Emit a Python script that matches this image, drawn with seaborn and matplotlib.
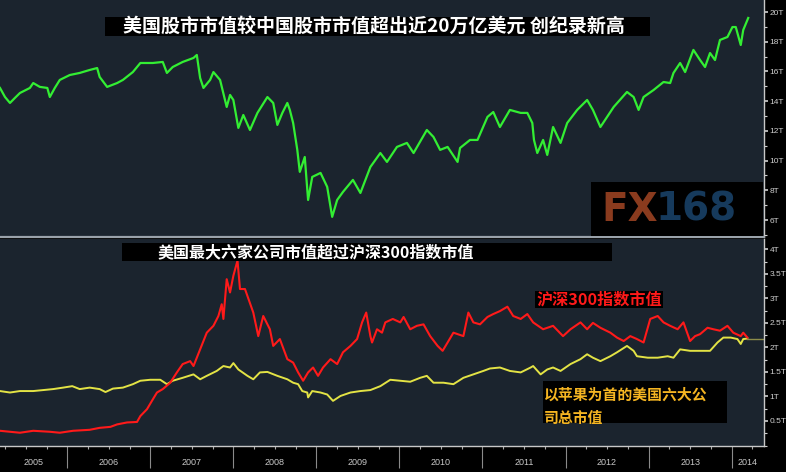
import matplotlib
matplotlib.use("Agg")
import matplotlib.pyplot as plt
from matplotlib.patches import Rectangle
from matplotlib.ticker import FixedLocator, FuncFormatter
import pandas as pd
import seaborn as sns

# ---------------- data ----------------
# US market cap minus China market cap, trillion USD
gap_year = [2005.19, 2005.25, 2005.31, 2005.37, 2005.43, 2005.55, 2005.59, 2005.67, 2005.76, 2005.79,
            2005.85, 2005.91, 2006.03, 2006.15, 2006.27, 2006.36, 2006.39, 2006.48, 2006.60, 2006.67,
            2006.79, 2006.88, 2007.03, 2007.15, 2007.20, 2007.27, 2007.39, 2007.52, 2007.56, 2007.60,
            2007.64, 2007.72, 2007.76, 2007.84, 2007.92, 2007.96, 2008.00, 2008.06, 2008.12, 2008.20,
            2008.29, 2008.41, 2008.48, 2008.53, 2008.59, 2008.65, 2008.68, 2008.72, 2008.77, 2008.80,
            2008.86, 2008.90, 2008.95, 2009.05, 2009.13, 2009.19, 2009.25, 2009.32, 2009.44, 2009.53,
            2009.65, 2009.77, 2009.85, 2009.97, 2010.09, 2010.17, 2010.33, 2010.41, 2010.49, 2010.58,
            2010.70, 2010.73, 2010.85, 2010.94, 2011.06, 2011.13, 2011.21, 2011.33, 2011.46, 2011.54,
            2011.60, 2011.62, 2011.66, 2011.73, 2011.78, 2011.85, 2011.94, 2012.02, 2012.14, 2012.26,
            2012.33, 2012.42, 2012.58, 2012.74, 2012.82, 2012.88, 2012.94, 2013.06, 2013.18, 2013.26,
            2013.30, 2013.38, 2013.44, 2013.54, 2013.62, 2013.68, 2013.74, 2013.80, 2013.86, 2013.95,
            2014.01, 2014.05, 2014.11, 2014.14, 2014.20]
gap_trn = [14.89, 14.28, 13.88, 14.22, 14.55, 14.89, 15.22, 14.96, 14.89, 14.28,
           14.89, 15.43, 15.76, 15.90, 16.10, 16.23, 15.63, 14.96, 15.22, 15.43,
           15.96, 16.57, 16.57, 16.64, 15.90, 16.30, 16.64, 16.91, 17.11, 15.56,
           14.89, 15.43, 15.96, 15.43, 13.61, 14.42, 14.08, 12.20, 13.07, 12.06,
           13.21, 14.28, 13.88, 12.40, 13.21, 13.88, 13.41, 12.53, 10.72, 9.24,
           10.24, 7.35, 8.90, 9.17, 8.23, 6.21, 7.35, 7.89, 8.70, 7.82,
           9.57, 10.51, 9.91, 10.92, 11.19, 10.51, 12.06, 11.59, 10.72, 10.92,
           9.91, 10.85, 11.39, 11.39, 12.94, 13.27, 12.26, 13.41, 13.21, 13.21,
           12.53, 11.39, 10.51, 11.39, 10.38, 12.26, 11.19, 12.53, 13.41, 14.08,
           13.41, 12.26, 13.61, 14.62, 14.28, 13.41, 14.28, 14.75, 15.29, 15.22,
           15.90, 16.57, 15.96, 17.45, 16.77, 16.30, 17.24, 16.77, 18.12, 18.32,
           18.99, 18.99, 17.78, 18.79, 19.60]

# CSI 300 market cap, trillion USD
hs300_year = [2005.19, 2005.31, 2005.43, 2005.59, 2005.79, 2005.91, 2006.07, 2006.27, 2006.39, 2006.52,
              2006.60, 2006.72, 2006.84, 2006.88, 2006.96, 2007.03, 2007.08, 2007.15, 2007.24, 2007.32,
              2007.39, 2007.48, 2007.52, 2007.60, 2007.68, 2007.76, 2007.82, 2007.86, 2007.88, 2007.92,
              2007.96, 2008.00, 2008.05, 2008.08, 2008.14, 2008.24, 2008.30, 2008.36, 2008.44, 2008.48,
              2008.56, 2008.65, 2008.72, 2008.78, 2008.84, 2008.90, 2008.96, 2009.02, 2009.08, 2009.17,
              2009.25, 2009.32, 2009.41, 2009.49, 2009.55, 2009.60, 2009.65, 2009.67, 2009.73, 2009.79,
              2009.83, 2009.92, 2010.01, 2010.05, 2010.13, 2010.21, 2010.29, 2010.37, 2010.46, 2010.52,
              2010.58, 2010.65, 2010.77, 2010.83, 2010.89, 2010.97, 2011.06, 2011.13, 2011.21, 2011.30,
              2011.37, 2011.46, 2011.54, 2011.61, 2011.73, 2011.85, 2011.97, 2012.06, 2012.18, 2012.26,
              2012.33, 2012.42, 2012.54, 2012.62, 2012.70, 2012.78, 2012.86, 2012.94, 2013.02, 2013.11,
              2013.18, 2013.26, 2013.35, 2013.42, 2013.50, 2013.56, 2013.62, 2013.71, 2013.78, 2013.86,
              2013.95, 2014.02, 2014.11, 2014.14, 2014.19]
hs300_trn = [0.30, 0.28, 0.26, 0.30, 0.28, 0.26, 0.30, 0.32, 0.36, 0.38,
             0.43, 0.47, 0.48, 0.60, 0.74, 0.94, 1.08, 1.15, 1.28, 1.49,
             1.66, 1.72, 1.62, 1.96, 2.30, 2.44, 2.64, 2.88, 2.58, 3.39,
             3.12, 3.46, 3.77, 3.19, 3.19, 2.71, 2.23, 2.64, 2.37, 2.03,
             2.17, 1.76, 1.69, 1.49, 1.32, 1.49, 1.59, 1.42, 1.59, 1.76,
             1.66, 1.90, 2.03, 2.17, 2.51, 2.71, 2.23, 2.10, 2.37, 2.30,
             2.51, 2.58, 2.51, 2.62, 2.37, 2.44, 2.47, 2.23, 2.03, 1.93,
             2.10, 2.30, 2.23, 2.71, 2.51, 2.47, 2.62, 2.68, 2.74, 2.83,
             2.64, 2.58, 2.68, 2.51, 2.37, 2.44, 2.23, 2.37, 2.51, 2.37,
             2.50, 2.40, 2.30, 2.20, 2.13, 2.23, 2.17, 2.10, 2.58, 2.64,
             2.51, 2.44, 2.37, 2.51, 2.13, 2.23, 2.27, 2.40, 2.37, 2.34,
             2.44, 2.30, 2.23, 2.30, 2.20]

# Six largest US companies (led by Apple), total market cap, trillion USD
top6_year = [2005.19, 2005.31, 2005.43, 2005.59, 2005.71, 2005.83, 2005.95, 2006.06, 2006.15, 2006.27,
             2006.39, 2006.46, 2006.55, 2006.67, 2006.79, 2006.88, 2007.00, 2007.12, 2007.20, 2007.27,
             2007.39, 2007.52, 2007.60, 2007.68, 2007.80, 2007.88, 2007.96, 2008.00, 2008.06, 2008.17,
             2008.24, 2008.32, 2008.41, 2008.53, 2008.65, 2008.72, 2008.78, 2008.83, 2008.89, 2008.90,
             2008.95, 2009.05, 2009.13, 2009.20, 2009.29, 2009.41, 2009.53, 2009.65, 2009.77, 2009.89,
             2010.01, 2010.13, 2010.25, 2010.33, 2010.41, 2010.53, 2010.65, 2010.77, 2010.89, 2011.01,
             2011.09, 2011.21, 2011.33, 2011.46, 2011.58, 2011.61, 2011.70, 2011.78, 2011.85, 2011.94,
             2012.06, 2012.18, 2012.26, 2012.33, 2012.42, 2012.54, 2012.62, 2012.74, 2012.82, 2012.86,
             2012.99, 2013.11, 2013.23, 2013.30, 2013.38, 2013.50, 2013.62, 2013.74, 2013.83, 2013.90,
             2013.99, 2014.07, 2014.11, 2014.14, 2014.19]
top6_trn = [1.11, 1.08, 1.11, 1.11, 1.13, 1.15, 1.18, 1.21, 1.15, 1.18,
            1.15, 1.09, 1.16, 1.18, 1.25, 1.32, 1.34, 1.34, 1.25, 1.32,
            1.38, 1.45, 1.35, 1.42, 1.52, 1.62, 1.59, 1.68, 1.55, 1.42,
            1.35, 1.49, 1.50, 1.42, 1.35, 1.28, 1.25, 1.11, 1.08, 0.98,
            1.11, 1.08, 1.04, 0.91, 1.01, 1.08, 1.11, 1.13, 1.21, 1.34,
            1.32, 1.30, 1.38, 1.42, 1.28, 1.28, 1.25, 1.38, 1.45, 1.52,
            1.57, 1.59, 1.52, 1.49, 1.59, 1.62, 1.45, 1.55, 1.59, 1.52,
            1.66, 1.76, 1.86, 1.79, 1.72, 1.82, 1.90, 2.03, 1.93, 1.82,
            1.79, 1.79, 1.82, 1.79, 1.96, 1.93, 1.93, 1.93, 2.10, 2.20,
            2.20, 2.17, 2.07, 2.17, 2.18]

title_top = "美国股市市值较中国股市市值超出近20万亿美元 创纪录新高"
title_bottom = "美国最大六家公司市值超过沪深300指数市值"
label_hs300 = "沪深300指数市值"
label_top6 = "以苹果为首的美国六大公\n司总市值"
year_labels = [2005, 2006, 2007, 2008, 2009, 2010, 2011, 2012, 2013, 2014]
top_ticks = [6, 8, 10, 12, 14, 16, 18, 20]
bottom_ticks = [0.5, 1, 1.5, 2, 2.5, 3, 3.5, 4]

# ---------------- style ----------------
plt.rcParams['font.family'] = ['Noto Sans CJK SC', 'DejaVu Sans']
TICKFONT = ['Liberation Sans Narrow', 'Liberation Sans', 'DejaVu Sans']
PANEL = '#1b242e'
GREEN = '#33ee33'
RED = '#ff1a1a'
YELLOW = '#e3e345'
TICKCOL = '#cfcfcf'

W, H = 786, 472
X0, X1 = 2005.19, 2014.39

def fx(px):
    return px / W

def fy(py):
    return 1 - py / H

fig = plt.figure(figsize=(W / 100, H / 100), dpi=100, facecolor='black')
ax1 = fig.add_axes([0, fy(236.5), fx(764), 236.5 / H])
ax2 = fig.add_axes([0, fy(445.5), fx(764), (445.5 - 238.5) / H])

df_gap = pd.DataFrame({'year': gap_year, 'trn': gap_trn})
df_hs = pd.DataFrame({'year': hs300_year, 'trn': hs300_trn})
df_t6 = pd.DataFrame({'year': top6_year, 'trn': top6_trn})

sns.lineplot(data=df_gap, x='year', y='trn', ax=ax1, color=GREEN, linewidth=1.6)
sns.lineplot(data=df_t6, x='year', y='trn', ax=ax2, color=YELLOW, linewidth=1.4)
sns.lineplot(data=df_hs, x='year', y='trn', ax=ax2, color=RED, linewidth=1.5)
# last-value guide line
ax2.plot([top6_year[-1], X1], [top6_trn[-1], top6_trn[-1]], color='#8d8d4a', linewidth=1.0)

for ax in (ax1, ax2):
    ax.set_facecolor(PANEL)
    ax.set_xlim(X0, X1)
    ax.set_xlabel('')
    ax.set_ylabel('')
    ax.grid(False)
    ax.yaxis.tick_right()
    for s in ('left', 'top'):
        ax.spines[s].set_visible(False)
    ax.spines['right'].set_color('#c8c8c8')
    ax.spines['right'].set_linewidth(1.0)
    ax.tick_params(axis='y', which='major', direction='out', length=3, width=1.2,
                   color=TICKCOL, labelcolor=TICKCOL, labelsize=6, pad=1)
    ax.tick_params(axis='y', which='minor', direction='out', length=2, width=0.8,
                   color=TICKCOL)

ax1.set_ylim(4.89, 20.81)
ax1.yaxis.set_major_locator(FixedLocator(top_ticks))
ax1.yaxis.set_minor_locator(FixedLocator([5, 7, 9, 11, 13, 15, 17, 19]))
ax1.yaxis.set_major_formatter(FuncFormatter(lambda v, p: f"{v:g}T"))
ax1.set_xticks([])
ax1.spines['bottom'].set_color('#9aa2aa')
ax1.spines['bottom'].set_linewidth(1.6)

ax2.set_ylim(0, 4.22)
ax2.yaxis.set_major_locator(FixedLocator(bottom_ticks))
ax2.yaxis.set_minor_locator(FixedLocator([0, 0.25, 0.75, 1.25, 1.75, 2.25, 2.75, 3.25, 3.75]))
ax2.yaxis.set_major_formatter(FuncFormatter(lambda v, p: f"{v:g}T"))
ax2.spines['bottom'].set_color('#c8c8c8')
ax2.spines['bottom'].set_linewidth(1.0)
ax2.xaxis.set_major_locator(FixedLocator(year_labels[1:]))
ax2.xaxis.set_minor_locator(FixedLocator([y + q for y in year_labels for q in (0.25, 0.5, 0.75)]))
ax2.tick_params(axis='x', which='major', direction='out', length=16, width=0.8,
                color='#8a8a8a', labelbottom=False)
ax2.tick_params(axis='x', which='minor', direction='out', length=2, width=0.8, color='#aaaaaa')

for ax in (ax1, ax2):
    for lab in ax.get_yticklabels():
        lab.set_family(TICKFONT)

# year labels centred in the visible part of each year
for yr in year_labels:
    a, b = max(yr, X0), min(yr + 1, X1)
    ax2.text((a + b) / 2, -0.082, str(yr), transform=ax2.get_xaxis_transform(),
             ha='center', va='center', color='#c8c8c8', fontsize=6.5, family=TICKFONT)

# ---------------- annotations ----------------
def box(x0, y0, x1, y1, color='black', z=5):
    fig.add_artist(Rectangle((fx(x0), fy(y1)), (x1 - x0) / W, (y1 - y0) / H,
                             transform=fig.transFigure, facecolor=color,
                             edgecolor='none', zorder=z))

box(105, 17, 650, 36)
fig.text(fx(123), fy(26.5), title_top, color='white', fontsize=13.7, fontweight='bold',
         ha='left', va='center', zorder=6)

box(122, 243, 612, 261)
fig.text(fx(157), fy(252), title_bottom, color='white', fontsize=11.5, fontweight='bold',
         ha='left', va='center', zorder=6)

box(535, 291, 663, 308)
fig.text(fx(537), fy(299.5), label_hs300, color=RED, fontsize=11.6, fontweight='bold',
         ha='left', va='center', zorder=6)

box(543, 381, 727, 423)
fig.text(fx(544), fy(406), label_top6, color='#f5b522', fontsize=10.7, fontweight='bold',
         ha='left', va='center', linespacing=1.55, zorder=6)

# logo
box(591, 182, 763, 236)
fig.text(fx(601), fy(210), "FX", color='#8a3b1e', fontsize=28, fontweight='bold',
         family='DejaVu Sans', ha='left', va='center', zorder=6)
fig.text(fx(656), fy(210), "168", color='#163a5c', fontsize=28, fontweight='bold',
         family='DejaVu Sans', ha='left', va='center', zorder=6)

fig.savefig('out.png', dpi=100, facecolor='black')
